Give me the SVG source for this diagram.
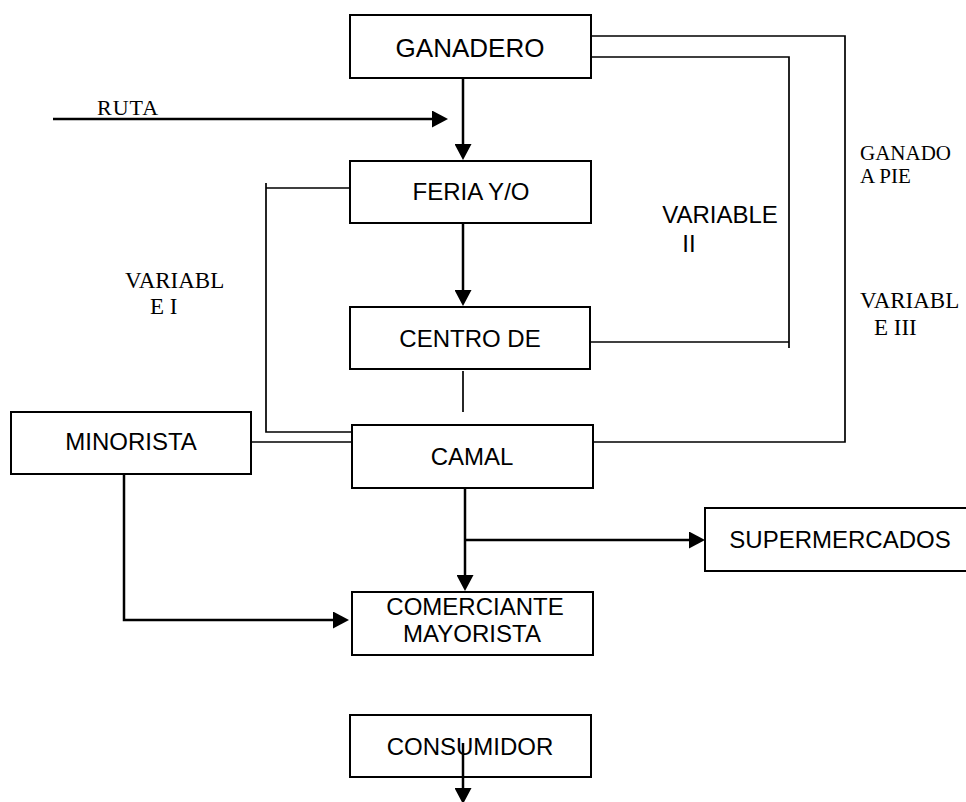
<svg xmlns="http://www.w3.org/2000/svg" width="966" height="802" viewBox="0 0 966 802">
<defs>
<marker id="ah" markerUnits="userSpaceOnUse" markerWidth="16" markerHeight="17" refX="11" refY="8.5" orient="auto">
<path d="M0,0 L16,8.5 L0,17 z" fill="#000"/>
</marker>
<style>
.box{fill:#fff;stroke:#000;stroke-width:2}
.t{font-family:"Liberation Sans",Arial,sans-serif;font-size:24px;fill:#000;text-anchor:middle}
.ser{font-family:"Liberation Serif","Times New Roman",serif;fill:#000}
.mono{font-family:"Liberation Serif","Times New Roman",serif;fill:#000;letter-spacing:1px}
.arr{fill:none;stroke:#000;stroke-width:2.5;marker-end:url(#ah)}
.ln{fill:none;stroke:#000;stroke-width:1.7}
</style>
</defs>
<rect width="966" height="802" fill="#fff"/>
<g id="ganadero"><rect class="box" x="350" y="15" width="241" height="63"/><text class="t" x="470" y="57" style="font-size:26px">GANADERO</text></g>
<g id="feria"><rect class="box" x="350" y="161" width="241" height="62"/><text class="t" x="471" y="200">FERIA Y/O</text></g>
<g id="centro"><rect class="box" x="350" y="307" width="240" height="62"/><text class="t" x="470" y="347">CENTRO DE</text></g>
<g id="camal"><rect class="box" x="352" y="425" width="241" height="63"/><text class="t" x="472" y="465">CAMAL</text></g>
<g id="minorista"><rect class="box" x="11" y="412" width="240" height="62"/><text class="t" x="131" y="450">MINORISTA</text></g>
<g id="supermercados"><rect class="box" x="705" y="508" width="262" height="63"/><text class="t" x="840" y="548">SUPERMERCADOS</text></g>
<g id="comerciante"><rect class="box" x="352" y="592" width="241" height="63"/><text class="t" x="475" y="615">COMERCIANTE</text><text class="t" x="472" y="642">MAYORISTA</text></g>
<g id="consumidor"><rect class="box" x="350" y="715" width="241" height="62"/><text class="t" x="470" y="755">CONSUMIDOR</text></g>
<g id="connectors">
<path class="ln" d="M591,36 H845 V442 H593"/>
<path class="ln" d="M591,57 H789 V348"/>
<path class="ln" d="M590,342 H789"/>
<path class="ln" d="M350,188 H266 M266,183 V432 H352"/>
<path class="ln" d="M251,442 H352"/>
<path class="ln" d="M463,371 V412"/>
<path class="arr" d="M463,78 V155"/>
<path class="arr" d="M53,119 H443"/>
<path class="arr" d="M463,223 V301"/>
<path class="arr" d="M465,488 V586"/>
<path class="arr" d="M465,540 H700"/>
<path class="arr" d="M124,474 V620 H344"/>
<path class="arr" d="M463,743 V799"/>
</g>
<g id="labels">
<text class="mono" x="97" y="115" font-size="22">RUTA</text>
<text class="ser" x="125" y="288" font-size="23">VARIABL</text>
<text class="ser" x="150" y="314" font-size="23">E I</text>
<text class="t" x="720" y="223" style="font-size:24px">VARIABLE</text>
<text class="t" x="689" y="252" style="font-size:24px">II</text>
<text class="ser" x="860" y="160" font-size="21">GANADO</text>
<text class="ser" x="860" y="183" font-size="21">A PIE</text>
<text class="ser" x="860" y="308" font-size="23">VARIABL</text>
<text class="ser" x="874" y="335" font-size="23">E III</text>
</g>
</svg>
